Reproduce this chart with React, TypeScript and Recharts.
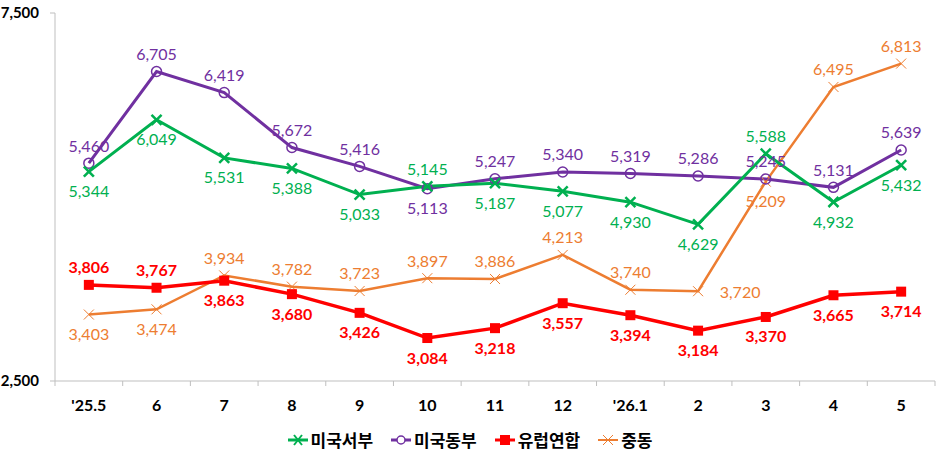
import React from "react";
import { LineChart, Line, XAxis, YAxis } from "recharts";

const months = ["'25.5", "6", "7", "8", "9", "10", "11", "12", "'26.1", "2", "3", "4", "5"];
const usWest = [5344, 6049, 5531, 5388, 5033, 5145, 5187, 5077, 4930, 4629, 5588, 4932, 5432];
const usEast = [5460, 6705, 6419, 5672, 5416, 5113, 5247, 5340, 5319, 5286, 5245, 5131, 5639];
const europe = [3806, 3767, 3863, 3680, 3426, 3084, 3218, 3557, 3394, 3184, 3370, 3665, 3714];
const midEast = [3403, 3474, 3934, 3782, 3723, 3897, 3886, 4213, 3740, 3720, 5209, 6495, 6813];
const yTicks = [2500, 7500];

// label placement per point: a = above, b = below, r = right
const westPos = "bbbbbabbbbabb";
const eastPos = "aaaaabaaaaaaa";
const euroPos = "aabbbbbbbbbbb";
const midPos = "bbaaaaaaarbaa";

const GREEN = "#00B050";
const PURPLE = "#7030A0";
const RED = "#FF0000";
const ORANGE = "#ED7D31";

const W = 950;
const H = 469;
const LEFT = 55;
const RIGHT = 15;
const band = (W - LEFT - RIGHT) / months.length;
const FONT = "Lato, 'Noto Sans', sans-serif";

const data = months.map((m, i) => ({
  m,
  west: usWest[i],
  east: usEast[i],
  euro: europe[i],
  mid: midEast[i],
}));

const fmt = (v: number) => v.toLocaleString("en-US");

const makeLabel = (pos: string, color: string, bold: boolean) => (p: any) => {
  const { x, y, value, index } = p;
  const k = pos[index];
  let tx = x;
  let ty = y;
  if (k === "a") ty = y - 18;
  else if (k === "b") ty = y + 19;
  else tx = x + 42;
  return (
    <text
      key={index}
      x={tx}
      y={ty}
      textAnchor="middle"
      dominantBaseline="central"
      fill={color}
      fontSize={16}
      fontWeight={bold ? 700 : 400}
      fontFamily={FONT}
    >
      {fmt(value)}
    </text>
  );
};

const XDot = (color: string, s: number, w: number) => (p: any) => {
  const { cx, cy, index } = p;
  return (
    <g key={index}>
      <line x1={cx - s} y1={cy - s} x2={cx + s} y2={cy + s} stroke={color} strokeWidth={w} />
      <line x1={cx - s} y1={cy + s} x2={cx + s} y2={cy - s} stroke={color} strokeWidth={w} />
    </g>
  );
};

const CircleDot = (p: any) => (
  <circle key={p.index} cx={p.cx} cy={p.cy} r={5} fill="none" stroke={PURPLE} strokeWidth={1.5} />
);

const SquareDot = (p: any) => (
  <rect key={p.index} x={p.cx - 5} y={p.cy - 5} width={10} height={10} fill={RED} />
);

const XTick = (p: any) => {
  const { x, y, payload, index } = p;
  const left = x - band / 2;
  return (
    <g>
      <line x1={left} y1={y} x2={left} y2={y + 5} stroke="#BFBFBF" strokeWidth={1} />
      {index === months.length - 1 && (
        <line x1={x + band / 2} y1={y} x2={x + band / 2} y2={y + 5} stroke="#BFBFBF" strokeWidth={1} />
      )}
      <text
        x={x}
        y={y + 23}
        textAnchor="middle"
        dominantBaseline="central"
        fontSize={16}
        fontWeight={700}
        fill="#000"
        fontFamily={FONT}
      >
        {payload.value}
      </text>
    </g>
  );
};

const legendItems = [
  { name: "미국서부", color: GREEN, kind: "x" },
  { name: "미국동부", color: PURPLE, kind: "o" },
  { name: "유럽연합", color: RED, kind: "s" },
  { name: "중동", color: ORANGE, kind: "t" },
];

const LegendIcon = ({ color, kind }: { color: string; kind: string }) => (
  <svg width={20} height={12} style={{ marginRight: 3 }}>
    <line x1={0} y1={6} x2={20} y2={6} stroke={color} strokeWidth={kind === "t" ? 2 : 3} />
    {kind === "x" && (
      <g stroke={color} strokeWidth={2}>
        <line x1={6} y1={1} x2={14} y2={11} />
        <line x1={6} y1={11} x2={14} y2={1} />
      </g>
    )}
    {kind === "o" && <circle cx={10} cy={6} r={4} fill="#fff" stroke={color} strokeWidth={1.5} />}
    {kind === "s" && <rect x={5} y={1} width={10} height={10} fill={color} />}
    {kind === "t" && (
      <g stroke={color} strokeWidth={1}>
        <line x1={5} y1={1} x2={15} y2={11} />
        <line x1={5} y1={11} x2={15} y2={1} />
      </g>
    )}
  </svg>
);

export default function App() {
  return (
    <div style={{ position: "absolute", left: 0, top: 0, width: W, height: H, background: "#fff" }}>
      <LineChart width={W} height={H} data={data} margin={{ top: 13, right: RIGHT, left: 0, bottom: 48 }}>
        <XAxis
          dataKey="m"
          scale="band"
          height={40}
          stroke="#BFBFBF"
          tickLine={false}
          tickSize={0}
          tickMargin={0}
          tick={<XTick />}
          interval={0}
        />
        <YAxis
          width={LEFT}
          domain={[2500, 7500]}
          ticks={yTicks}
          stroke="#BFBFBF"
          tickSize={5}
          tickMargin={11}
          tickFormatter={fmt}
          tick={{ fill: "#000", fontSize: 15, fontWeight: 700, fontFamily: FONT }}
        />
        <Line
          dataKey="mid"
          stroke={ORANGE}
          strokeWidth={2.5}
          dot={XDot(ORANGE, 5, 1)}
          label={makeLabel(midPos, ORANGE, false)}
          isAnimationActive={false}
        />
        <Line
          dataKey="euro"
          stroke={RED}
          strokeWidth={3.5}
          dot={SquareDot}
          label={makeLabel(euroPos, RED, true)}
          isAnimationActive={false}
        />
        <Line
          dataKey="east"
          stroke={PURPLE}
          strokeWidth={3}
          dot={CircleDot}
          label={makeLabel(eastPos, PURPLE, false)}
          isAnimationActive={false}
        />
        <Line
          dataKey="west"
          stroke={GREEN}
          strokeWidth={3}
          dot={XDot(GREEN, 5, 2.5)}
          label={makeLabel(westPos, GREEN, false)}
          isAnimationActive={false}
        />
      </LineChart>
      <div
        style={{
          position: "absolute",
          top: 429,
          left: 0,
          width: W - 10,
          display: "flex",
          justifyContent: "center",
          gap: 18,
          fontFamily: "'Noto Sans CJK KR', sans-serif",
          fontWeight: 700,
          fontSize: 17,
          lineHeight: "22px",
        }}
      >
        {legendItems.map((it) => (
          <div key={it.name} style={{ display: "flex", alignItems: "center" }}>
            <LegendIcon color={it.color} kind={it.kind} />
            <span>{it.name}</span>
          </div>
        ))}
      </div>
    </div>
  );
}
